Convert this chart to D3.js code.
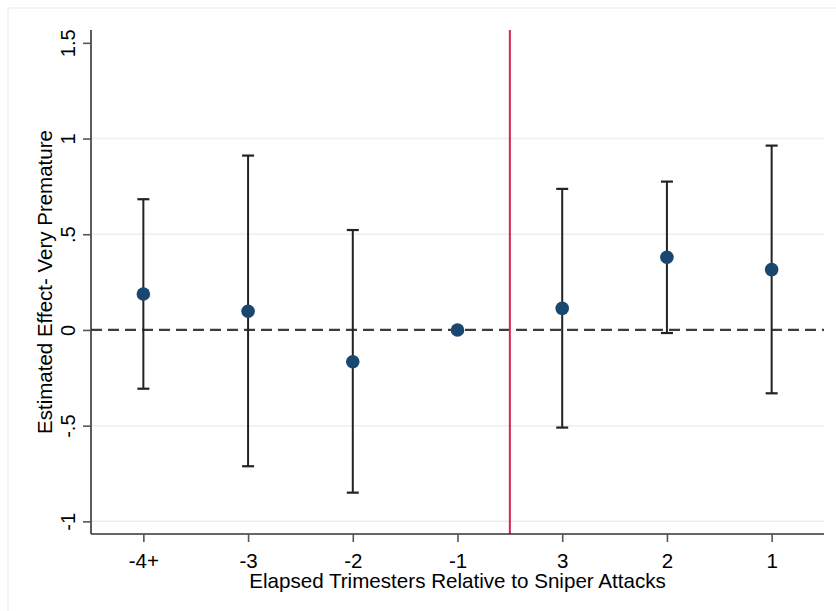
<!DOCTYPE html>
<html>
<head>
<meta charset="utf-8">
<script src="https://cdn.jsdelivr.net/npm/d3@7"></script>
<style>
  html, body { margin: 0; padding: 0; background: #fff; }
  svg { display: block; font-family: "Liberation Sans", Arial, sans-serif; }
</style>
</head>
<body>
<svg id="chart" width="836" height="611"></svg>
<script>
const categories = ["-4+", "-3", "-2", "-1", "3", "2", "1"];
const estimates  = [0.188, 0.098, -0.166, 0, 0.113, 0.380, 0.315];
const ciLower    = [-0.307, -0.712, -0.850, null, -0.510, -0.016, -0.331];
const ciUpper    = [0.683, 0.911, 0.522, null, 0.737, 0.775, 0.963];
const yTicks     = [-1, -0.5, 0, 0.5, 1, 1.5];
const yTickLabels = ["-1", "-.5", "0", ".5", "1", "1.5"];
const gridValues = [-1, -0.5, 0.5, 1];
const yDomain    = [-1.066, 1.567];
const xTitle = "Elapsed Trimesters Relative to Sniper Attacks";
const yTitle = "Estimated Effect- Very Premature";

(function () {
const svg = d3.select("#chart");
const W = 836, H = 611;
const pL = 91, pR = 824, pT = 30, pB = 534;

// outer light frame
svg.append("rect").attr("x", 8).attr("y", 8).attr("width", W).attr("height", H)
  .attr("fill", "none").attr("stroke", "#edf2f3").attr("stroke-width", 1.5);

const x = d3.scalePoint().domain(categories).range([pL, pR]).padding(0.5);
const y = d3.scaleLinear().domain(yDomain).range([pB, pT]);

// gridlines
svg.append("g").selectAll("line").data(gridValues).join("line")
  .attr("x1", pL).attr("x2", pR)
  .attr("y1", d => y(d)).attr("y2", d => y(d))
  .attr("stroke", "#eaf0f1").attr("stroke-width", 1.5);

// zero dashed line
svg.append("line")
  .attr("x1", pL).attr("x2", pR).attr("y1", y(0)).attr("y2", y(0))
  .attr("stroke", "#3c3c3c").attr("stroke-width", 2.3).attr("stroke-dasharray", "11,6");

// red vertical line between -1 and 3
const xRed = x(categories[3]) + x.step() / 2;
svg.append("line")
  .attr("x1", xRed).attr("x2", xRed).attr("y1", pT).attr("y2", pB)
  .attr("stroke", "#d4264f").attr("stroke-width", 2);

// axes
const yAxis = d3.axisLeft(y).tickValues(yTicks)
  .tickFormat((d, i) => yTickLabels[i]).tickSize(8).tickSizeOuter(0);
const gy = svg.append("g").attr("transform", `translate(${pL},0)`).call(yAxis);
gy.select(".domain").attr("stroke", "#333").attr("stroke-width", 1.6)
  .attr("d", `M0,${pT}V${pB}`);
gy.selectAll(".tick line").attr("stroke", "#555").attr("stroke-width", 1.6);
gy.selectAll(".tick text")
  .attr("font-size", 20).attr("fill", "#000")
  .attr("text-anchor", "middle")
  .attr("x", null).attr("dy", null).attr("y", 0)
  .attr("transform", "translate(-16,0) rotate(-90)");

const xAxis = d3.axisBottom(x).tickSize(8).tickSizeOuter(0);
const gx = svg.append("g").attr("transform", `translate(0,${pB})`).call(xAxis);
gx.select(".domain").attr("stroke", "#333").attr("stroke-width", 1.6)
  .attr("d", `M${pL},0H${pR}`);
gx.selectAll(".tick line").attr("stroke", "#555").attr("stroke-width", 1.6);
gx.selectAll(".tick text")
  .attr("font-size", 20.5).attr("fill", "#000")
  .attr("y", 33.5).attr("dy", null);

// axis titles
svg.append("text")
  .attr("transform", `translate(52,${(pT + pB) / 2}) rotate(-90)`)
  .attr("text-anchor", "middle").attr("font-size", 20.5).attr("fill", "#000")
  .text(yTitle);
svg.append("text")
  .attr("x", (pL + pR) / 2).attr("y", 588)
  .attr("text-anchor", "middle").attr("font-size", 20.6).attr("fill", "#000")
  .text(xTitle);

// error bars
const data = categories.map((c, i) => ({ c, est: estimates[i], lo: ciLower[i], hi: ciUpper[i] }));
const ci = data.filter(d => d.lo !== null);
const g = svg.append("g");
g.selectAll("line.v").data(ci).join("line").attr("class", "v")
  .attr("x1", d => x(d.c)).attr("x2", d => x(d.c))
  .attr("y1", d => y(d.lo)).attr("y2", d => y(d.hi))
  .attr("stroke", "#222").attr("stroke-width", 2);
const capW = 6;
g.selectAll("line.capT").data(ci).join("line").attr("class", "capT")
  .attr("x1", d => x(d.c) - capW).attr("x2", d => x(d.c) + capW)
  .attr("y1", d => y(d.hi)).attr("y2", d => y(d.hi))
  .attr("stroke", "#222").attr("stroke-width", 2.2);
g.selectAll("line.capB").data(ci).join("line").attr("class", "capB")
  .attr("x1", d => x(d.c) - capW).attr("x2", d => x(d.c) + capW)
  .attr("y1", d => y(d.lo)).attr("y2", d => y(d.lo))
  .attr("stroke", "#222").attr("stroke-width", 2.2);

// points
g.selectAll("circle").data(data).join("circle")
  .attr("cx", d => x(d.c)).attr("cy", d => y(d.est)).attr("r", 6.8)
  .attr("fill", "#1a476f");
})();
</script>
</body>
</html>
